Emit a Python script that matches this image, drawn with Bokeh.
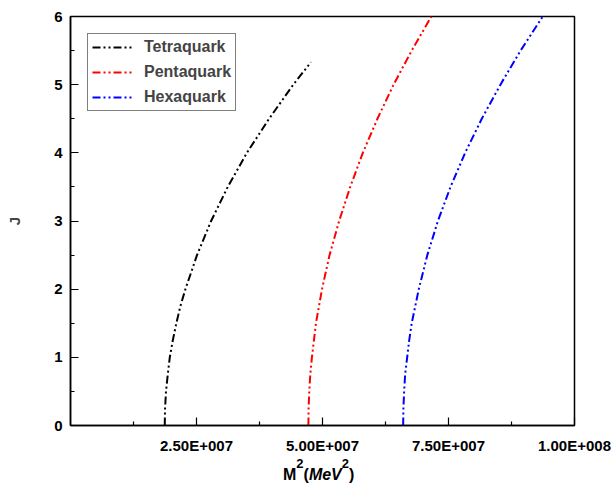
from bokeh.plotting import figure
from bokeh.models import Range1d, FixedTicker, Div
from bokeh.layouts import column
from bokeh.embed import file_html
from bokeh.resources import INLINE

# ---------------- data ----------------
series_names = ["Tetraquark", "Pentaquark", "Hexaquark"]
series_colors = ["black", "red", "blue"]

tetra_J = [0, 0.25, 0.5, 0.75, 1.0, 1.25, 1.5, 1.75, 2.0, 2.5, 3.0, 3.5, 4.0, 4.5, 5.0, 5.33]
tetra_M2 = [18.7e6, 18.76e6, 18.95e6, 19.3e6, 19.7e6, 20.3e6, 21.0e6, 21.8e6, 22.8e6,
            25.1e6, 27.9e6, 31.2e6, 35.0e6, 39.4e6, 44.2e6, 47.7e6]

penta_J = [0, 0.25, 0.5, 0.75, 1.0, 1.25, 1.5, 1.75, 2.0, 2.5, 3.0, 3.5, 4.0, 4.5, 5.0, 5.5, 6.0]
penta_M2 = [47.2e6, 47.24e6, 47.37e6, 47.58e6, 47.9e6, 48.3e6, 48.7e6, 49.3e6, 49.9e6,
            51.4e6, 53.3e6, 55.5e6, 58.0e6, 60.9e6, 64.1e6, 67.7e6, 71.6e6]

hexa_J = [0, 0.25, 0.5, 0.75, 1.0, 1.25, 1.5, 1.75, 2.0, 2.5, 3.0, 3.5, 4.0, 4.5, 5.0, 5.5, 6.0]
hexa_M2 = [66.0e6, 66.05e6, 66.2e6, 66.4e6, 66.8e6, 67.2e6, 67.7e6, 68.4e6, 69.1e6,
           70.8e6, 72.9e6, 75.4e6, 78.3e6, 81.6e6, 85.3e6, 89.3e6, 93.7e6]

x_tick_values = [25_000_000, 50_000_000, 75_000_000, 100_000_000]
x_tick_labels = ["2.50E+007", "5.00E+007", "7.50E+007", "1.00E+008"]
x_minor_values = [12_500_000, 37_500_000, 62_500_000, 87_500_000]
y_tick_values = [0, 1, 2, 3, 4, 5, 6]
y_minor_values = [0.5, 1.5, 2.5, 3.5, 4.5, 5.5]

SUP = '<span style="font-size:13px;position:relative;top:-12px;line-height:0;">2</span>'
x_title_html = 'M' + SUP + '(<i>MeV</i>' + SUP + ')'
y_title = "J"

# ---------------- figure ----------------
FONT = "Liberation Sans"
W = 616
FIG_H = 466
TITLE_H = 497 - FIG_H

p = figure(width=W, height=FIG_H, x_range=Range1d(0, 1e8), y_range=Range1d(0, 6),
           output_backend="svg", toolbar_location=None,
           min_border_left=70, min_border_right=42, min_border_top=16, min_border_bottom=41)
p.grid.visible = False
p.outline_line_color = "black"
p.outline_line_width = 1.5
p.background_fill_color = "white"
p.border_fill_color = "white"

xa = p.xaxis[0]
xa.ticker = FixedTicker(ticks=x_tick_values, minor_ticks=x_minor_values)
xa.major_label_overrides = {v: s for v, s in zip(x_tick_values, x_tick_labels)}
ya = p.yaxis[0]
ya.ticker = FixedTicker(ticks=y_tick_values, minor_ticks=y_minor_values)

for ax in (xa, ya):
    ax.axis_line_color = "black"
    ax.axis_line_width = 1.5
    ax.major_tick_in = 8
    ax.major_tick_out = 0
    ax.minor_tick_in = 4
    ax.minor_tick_out = 0
    ax.major_tick_line_width = 1.2
    ax.minor_tick_line_width = 1.2
    ax.major_label_text_font = FONT
    ax.major_label_text_font_style = "bold"
    ax.major_label_text_font_size = "15px"
    ax.major_label_text_color = "black"
xa.major_label_standoff = 11
ya.major_label_standoff = 8

ya.axis_label = y_title
ya.axis_label_text_font = FONT
ya.axis_label_text_font_style = "bold"
ya.axis_label_text_font_size = "15px"
ya.axis_label_standoff = 28

# ---------------- curves ----------------
DASH = "8 3 2 3 2 3"
for name, color, xs, ys in zip(series_names, series_colors,
                               [tetra_M2, penta_M2, hexa_M2],
                               [tetra_J, penta_J, hexa_J]):
    p.line(xs, ys, line_color=color, line_width=2, line_dash=DASH, legend_label=name)

lg = p.legend[0]
lg.location = "top_left"
lg.margin = 17
lg.padding = 4
lg.spacing = 7
lg.label_height = 18
lg.glyph_height = 18
lg.glyph_width = 40
lg.label_standoff = 12
lg.label_text_font = FONT
lg.label_text_font_style = "bold"
lg.label_text_font_size = "16px"
lg.border_line_color = "black"
lg.border_line_width = 1
lg.background_fill_alpha = 1.0

# ---------------- x-axis title (HTML, so the superscripts and italics are real text) ----------------
title_div = Div(
    text=(
        '<div style="position:absolute;left:283px;top:1px;white-space:nowrap;'
        'font-family:\'Liberation Sans\';font-weight:bold;font-size:16px;line-height:16px;color:black;">'
        + x_title_html + '</div>'
    ),
    width=W, height=TITLE_H, margin=0,
    styles={"position": "relative", "background": "white"},
)

layout = column(p, title_div, spacing=0)
open("out.html", "w").write(file_html(layout, INLINE))
